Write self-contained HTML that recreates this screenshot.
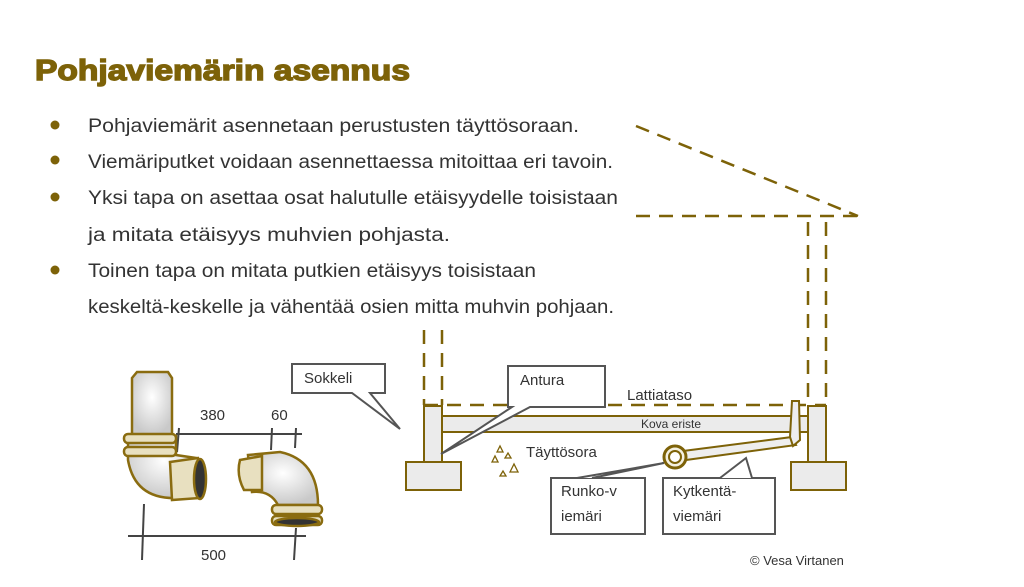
<!DOCTYPE html>
<html><head><meta charset="utf-8"><style>
html,body{margin:0;padding:0;background:#fff;}
svg{display:block;}
text{font-family:"Liberation Sans",sans-serif;}
</style></head><body>
<svg width="1024" height="587" viewBox="0 0 1024 587" xmlns="http://www.w3.org/2000/svg">
<defs>
<radialGradient id="pg" cx="0.5" cy="0.4" r="0.6"><stop offset="0" stop-color="#ffffff"/><stop offset="1" stop-color="#c9c9c9"/></radialGradient>
</defs>
<text x="35" y="80" font-size="29" font-weight="bold" fill="#7d6208" textLength="375" lengthAdjust="spacingAndGlyphs" stroke="#7d6208" stroke-width="1.4">Pohjaviemärin asennus</text>
<g fill="#7d6208">
<circle cx="55" cy="125" r="4.5"/><circle cx="55" cy="160" r="4.5"/><circle cx="55" cy="197" r="4.5"/><circle cx="55" cy="270" r="4.5"/>
</g>
<g font-size="19" fill="#333">
<text x="88" y="132" textLength="491" lengthAdjust="spacingAndGlyphs">Pohjaviemärit asennetaan perustusten täyttösoraan.</text>
<text x="88" y="168" textLength="525" lengthAdjust="spacingAndGlyphs">Viemäriputket voidaan asennettaessa mitoittaa eri tavoin.</text>
<text x="88" y="204" textLength="530" lengthAdjust="spacingAndGlyphs">Yksi tapa on asettaa osat halutulle etäisyydelle toisistaan</text>
<text x="88" y="241" textLength="362" lengthAdjust="spacingAndGlyphs">ja mitata etäisyys muhvien pohjasta.</text>
<text x="88" y="277" textLength="448" lengthAdjust="spacingAndGlyphs">Toinen tapa on mitata putkien etäisyys toisistaan</text>
<text x="88" y="313" textLength="526" lengthAdjust="spacingAndGlyphs">keskeltä-keskelle ja vähentää osien mitta muhvin pohjaan.</text>
</g>
<g stroke="#7d6208" stroke-width="2.5" stroke-dasharray="14,9" fill="none">
<line x1="636" y1="126" x2="858" y2="216"/>
<line x1="636" y1="216" x2="860" y2="216"/>
<line x1="808" y1="222" x2="808" y2="405"/>
<line x1="826" y1="222" x2="826" y2="405"/>
<line x1="424" y1="330" x2="424" y2="405"/>
<line x1="442" y1="330" x2="442" y2="405"/>
<line x1="424" y1="405" x2="826" y2="405"/>
</g>
<g fill="#ebebeb" stroke="#7d6208" stroke-width="2">
<rect x="424" y="406" width="18" height="56"/>
<rect x="406" y="462" width="55" height="28"/>
<rect x="808" y="406" width="18" height="56"/>
<rect x="791" y="462" width="55" height="28"/>
<rect x="442" y="416" width="366" height="16"/>
</g>
<text x="671" y="428" font-size="12" fill="#333" text-anchor="middle">Kova eriste</text>
<text x="627" y="400" font-size="15" fill="#333">Lattiataso</text>
<text x="526" y="457" font-size="15" fill="#333">Täyttösora</text>
<g fill="none" stroke="#7d6208" stroke-width="1.3">
<path d="M497 452 l3 -6 l3 6z M505 458 l3 -5 l3 5z M500 476 l3 -5 l3 5z M510 472 l4 -8 l4 8z M492 462 l3 -6 l3 6z"/>
</g>
<g stroke="#7d6208" stroke-width="2" fill="#eee">
<path d="M683 451 L792 437 L796 445 L686 460 Z"/>
<path d="M792 401 L799 401 L800 440 L793 446 L790 437 Z"/>
<circle cx="675" cy="457" r="11" fill="#f4f0e0" stroke-width="3"/>
<circle cx="675" cy="457" r="6" fill="#fff"/>
</g>
<g fill="#fff" stroke="#555" stroke-width="2">
<path d="M292 364 H385 V393 H370 L400 429 L352 393 H292 Z"/>
<path d="M508 366 H605 V407 H530 L441 454 L512 407 H508 Z"/>
<path d="M551 478 H645 V534 H551 Z"/>
<path d="M577 478 L664 463 L592 478"/>
<path d="M663 478 H775 V534 H663 Z"/>
<path d="M720 478 L746 458 L752 478"/>
</g>
<g font-size="15" fill="#333">
<text x="304" y="383">Sokkeli</text>
<text x="520" y="385">Antura</text>
<text x="561" y="496">Runko-v</text><text x="561" y="521">iemäri</text>
<text x="673" y="496">Kytkentä-</text><text x="673" y="521">viemäri</text>
<text x="750" y="565" font-size="13">© Vesa Virtanen</text>
<text x="200" y="420">380</text><text x="271" y="420">60</text><text x="201" y="560">500</text>
</g>
<g stroke="#444" stroke-width="2">
<line x1="176" y1="434" x2="302" y2="434"/>
<line x1="179" y1="428" x2="177" y2="452"/><line x1="272" y1="428" x2="271" y2="450"/><line x1="296" y1="428" x2="295" y2="448"/>
<line x1="128" y1="536" x2="306" y2="536"/>
<line x1="144" y1="504" x2="142" y2="560"/><line x1="296" y1="528" x2="294" y2="560"/>
</g>
<g stroke="#8a6c10" stroke-width="2.5">
<path d="M132 378 L137 372 L168 372 L172 378 L172 435 L132 435 Z" fill="url(#pg)"/>
<path d="M128 436 L176 436 L176 455 L196 458 L200 495 L178 498 Q135 500 128 460 Z" fill="url(#pg)"/>
<rect x="124" y="434" width="52" height="9" rx="4" fill="#e8e0c0"/>
<rect x="124" y="447" width="52" height="9" rx="4" fill="#e8e0c0"/>
<path d="M170 462 L198 458 Q205 478 200 498 L172 500 Z" fill="#e8e0c0"/>
<ellipse cx="200" cy="479" rx="6" ry="20" fill="#333"/>
<path d="M248 455 L280 452 Q318 460 318 505 L278 505 Q270 490 252 492 Z" fill="url(#pg)"/>
<path d="M240 460 Q236 475 244 490 L262 490 L262 456 Z" fill="#e8e0c0"/>
<rect x="272" y="505" width="50" height="9" rx="4" fill="#e8e0c0"/>
<rect x="272" y="516" width="50" height="9" rx="4" fill="#e8e0c0"/>
<ellipse cx="297" cy="522" rx="22" ry="4" fill="#333"/>
</g>
</svg>
</body></html>
